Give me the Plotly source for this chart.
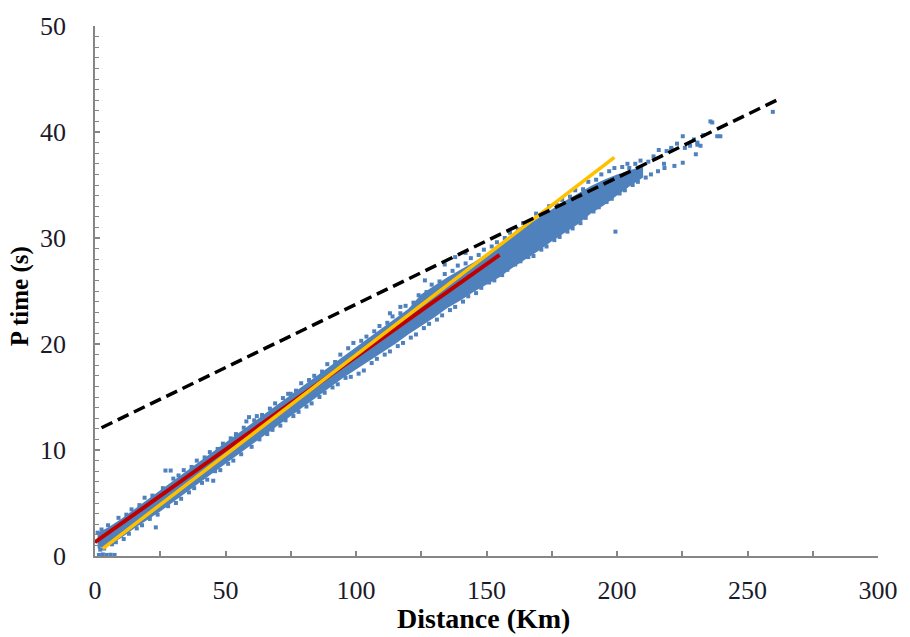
import plotly.graph_objects as go

# ---------------- data ----------------
# dense core of the scatter cloud: lower / upper edges
band_x = [1, 5, 10, 15, 20, 25, 30, 35, 40, 45, 50, 55, 60, 65, 70, 75, 80, 85, 90, 95,
          100, 105, 110, 115, 120, 125, 130, 135, 140, 145, 150, 155, 160, 165, 170, 175,
          180, 185, 190, 195, 200, 205, 210]
band_lo = [0.7, 1.0, 1.7, 2.6, 3.4, 4.2, 5.1, 6.0, 6.9, 7.8, 8.7, 9.6, 10.5, 11.4, 12.3, 13.2,
           14.1, 15.0, 15.9, 16.8, 17.6, 18.4, 19.2, 20.0, 20.9, 21.7, 22.5, 23.4, 24.1, 24.9,
           25.6, 26.3, 27.2, 28.0, 28.8, 29.7, 30.5, 31.3, 32.3, 33.1, 34.0, 34.9, 35.7]
band_hi = [2.2, 2.7, 3.5, 4.4, 5.3, 6.2, 7.1, 8.0, 8.9, 9.8, 10.7, 11.6, 12.5, 13.4, 14.3, 15.2,
           16.1, 17.0, 17.9, 18.8, 19.7, 20.6, 21.5, 22.4, 23.3, 24.7, 25.5, 26.3, 27.0, 27.7,
           28.5, 29.4, 30.3, 31.1, 31.9, 32.7, 33.5, 34.2, 34.9, 35.5, 36.0, 36.4, 36.8]

# individual points (ragged edges, outliers, sparse tail)
pts_x = [1.5, 3, 4.5, 6, 7.5, 2, 3.5, 1, 2.5, 5, 6.5, 8, 9, 11, 12, 13, 14, 16, 17, 18,
         19, 21, 22, 23.3, 24, 26, 27, 29, 28, 30, 31, 32, 33, 34, 36, 37, 38, 39, 41, 42,
         43, 44, 45.3, 46, 47, 48, 49, 51, 52, 53, 54, 56, 57, 58, 59, 60, 61, 62, 63, 64,
         66, 67, 68, 69, 71, 72, 73, 74, 76, 77, 78, 79, 81, 82, 83, 84, 86, 87, 88, 89,
         91, 92, 93, 94, 96, 97, 98, 99, 101, 102, 103, 104, 106, 107, 108, 109, 111, 112, 113, 114,
         116, 117, 118, 119, 121, 122, 123, 124, 126.4, 126, 127, 128, 129, 131, 132, 133, 134, 136, 137, 138,
         139, 141, 142, 143, 144, 146, 147, 148, 149, 151, 152, 153, 154, 156, 157, 158, 159, 161, 162, 163,
         164, 166, 167, 168, 169, 171, 172, 173, 174, 176, 177, 178, 179, 181, 182, 183, 184, 186, 187, 188,
         189, 191, 192, 193, 194, 196, 197, 198, 199, 199.4, 201, 202, 203, 204, 204.7, 206, 207, 208, 209, 211,
         212, 213, 214, 215.7, 216, 218, 218.2, 219, 220.8, 220.8, 222, 223, 225.2, 225.2, 226, 228, 229.5, 230.2,
         230.8, 230.8, 232, 233, 235.8, 236.5, 238.4, 239.6, 259.7, 134, 138, 142, 113, 117, 84, 75]
pts_y = [0.1, 0.15, 0.1, 0.12, 0.1, 0.6, 0.7, 2.2, 2.5, 2.9, 1.1, 1.3, 3.6, 1.6, 3.9, 2.1, 4.4, 2.6, 4.8, 2.9,
         5.5, 3.5, 5.7, 2.7, 3.9, 6.4, 8.06, 8.06, 4.7, 7.3, 5.0, 7.6, 5.4, 8.1, 6.0, 8.4, 6.4, 9.0, 6.9, 9.3,
         7.2, 9.8, 7.1, 8.0, 10.1, 8.1, 10.6, 8.7, 11.1, 9.0, 11.5, 9.6, 12.1, 12.7, 13.1, 10.3, 12.8, 13.2, 11.0, 13.3,
         11.5, 13.9, 11.9, 14.4, 12.3, 14.9, 12.8, 15.3, 13.2, 15.6, 13.6, 16.3, 14.1, 16.6, 14.4, 17.0, 15.0, 17.4, 15.4, 18.1,
         15.9, 18.3, 16.2, 19.0, 16.8, 19.6, 16.9, 20.1, 17.2, 20.3, 17.5, 20.7, 18.2, 21.2, 18.6, 21.7, 19.0, 22.0, 19.3, 22.6,
         19.8, 22.9, 20.1, 23.6, 20.6, 23.9, 20.9, 24.6, 26.0, 21.5, 24.9, 21.9, 25.6, 22.3, 25.9, 22.7, 26.6, 23.2, 26.9, 23.5,
         27.4, 24.0, 27.6, 24.5, 28.1, 24.8, 28.4, 25.3, 28.9, 25.8, 29.2, 26.0, 29.6, 26.5, 30.0, 27.0, 30.5, 27.5, 30.8, 27.8,
         31.4, 28.2, 31.6, 28.3, 32.3, 28.9, 32.4, 29.2, 33.0, 29.8, 33.1, 30.1, 33.6, 30.6, 33.9, 30.9, 34.5, 31.4, 34.6, 31.9,
         35.3, 32.5, 35.5, 32.9, 36.0, 33.4, 36.3, 33.7, 36.6, 30.6, 34.2, 36.7, 34.5, 37.0, 36.6, 35.0, 37.0, 35.3, 37.3, 35.7,
         37.2, 36.0, 37.7, 36.3, 38.3, 37.0, 36.6, 38.2, 38.4, 38.5, 36.8, 38.9, 37.1, 39.6, 38.5, 38.7, 39.3, 37.9,
         38.8, 39.0, 38.7, 39.7, 41.0, 40.9, 39.6, 39.6, 41.9, 27.5, 28.2, 28.6, 22.9, 23.5, 15.9, 15.3]

# fitted / reference lines (end points)
red_x = [0, 155]
red_y = [1.3, 28.4]
yellow_x = [3, 199]
yellow_y = [0.7, 37.6]
dash_x = [2.5, 262]
dash_y = [12.1, 43.1]

x_ticks = [0, 50, 100, 150, 200, 250, 300]
y_ticks = [0, 10, 20, 30, 40, 50]

BLUE = "#4F81BD"
SERIF = "Times New Roman, Liberation Serif, serif"

fig = go.Figure()

# dense core (polygon)
fig.add_trace(go.Scatter(
    x=band_x + band_x[::-1], y=band_hi + band_lo[::-1],
    fill="toself", fillcolor=BLUE, mode="lines",
    line=dict(width=0, color=BLUE), hoverinfo="skip", showlegend=False))

fig.add_trace(go.Scatter(
    x=pts_x, y=pts_y, mode="markers",
    marker=dict(symbol="square", size=4, color=BLUE, line=dict(width=0)),
    showlegend=False))

fig.add_trace(go.Scatter(x=red_x, y=red_y, mode="lines",
                         line=dict(color="#C00000", width=4), showlegend=False))
fig.add_trace(go.Scatter(x=yellow_x, y=yellow_y, mode="lines",
                         line=dict(color="#FFC000", width=3.5), showlegend=False))
fig.add_trace(go.Scatter(x=dash_x, y=dash_y, mode="lines",
                         line=dict(color="#000000", width=3.5, dash="12px,6px"),
                         showlegend=False))

axis_common = dict(
    showgrid=False, zeroline=False, showline=True, linecolor="#868686", linewidth=1.5,
    ticks="inside", ticklen=5, tickwidth=1.5, tickcolor="#868686",
    tickfont=dict(family=SERIF, size=26, color="#1a1a2a"),
)

fig.update_xaxes(range=[0, 300], tickvals=x_ticks, ticklabelstandoff=10,
                 minor=dict(dtick=25, ticks="inside", ticklen=5, tickcolor="#868686", tickwidth=1.5),
                 **axis_common)
fig.update_yaxes(range=[0, 50], tickvals=y_ticks, ticklabelstandoff=22,
                 minor=dict(dtick=1, ticks="inside", ticklen=4, tickcolor="#868686", tickwidth=1.2),
                 **axis_common)

fig.update_layout(
    width=910, height=637,
    margin=dict(l=95, r=20, t=18, b=81),
    plot_bgcolor="white", paper_bgcolor="white",
    showlegend=False,
    annotations=[
        dict(text="<b>Distance (Km)</b>", xref="paper", yref="paper",
             x=0.496, y=-0.118, xanchor="center", yanchor="middle", showarrow=False,
             font=dict(family=SERIF, size=28, color="#000000")),
        dict(text="<b>P time (s)</b>", xref="paper", yref="paper",
             x=-0.096, y=0.49, xanchor="center", yanchor="middle", showarrow=False,
             textangle=-90, font=dict(family=SERIF, size=25, color="#000000")),
    ],
)

fig.write_html("out.html")
